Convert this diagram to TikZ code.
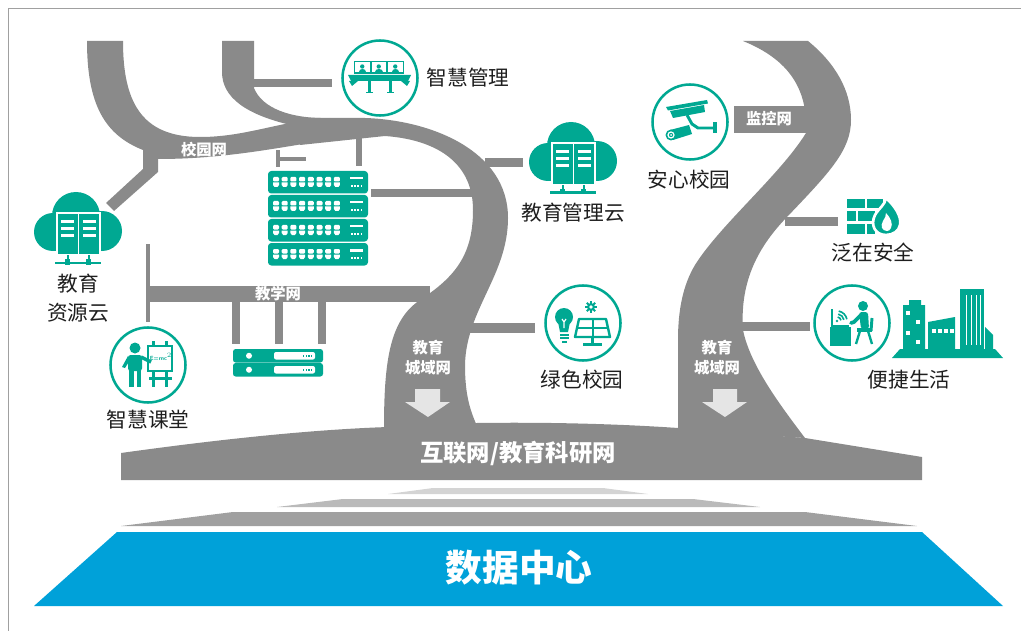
\documentclass[tikz,border=0pt]{standalone}
\usepackage{fontspec}
\newfontfamily\cjk{Noto Sans CJK SC}

\definecolor{roadgray}{RGB}{138,138,138}
\definecolor{iconteal}{RGB}{0,168,146}
\definecolor{dcblue}{RGB}{0,161,217}
\definecolor{framegray}{RGB}{160,160,160}
\definecolor{arrowgray}{RGB}{229,229,229}
\definecolor{stripeA}{RGB}{212,212,212}
\definecolor{stripeB}{RGB}{186,186,186}
\definecolor{stripeC}{RGB}{160,160,160}
\definecolor{labelblack}{RGB}{30,30,30}

\tikzset{every picture/.style={line width=0.75pt}}
\tikzset{
  lbl/.style={font=\cjk\fontsize{15.5}{21.5}\selectfont, text=labelblack, inner sep=0, align=center},
  roadlbl/.style={font=\cjk\bfseries\fontsize{11.5}{15}\selectfont, text=white, inner sep=0, align=center},
  ring/.style={draw=iconteal, line width=1.9pt},
  % one 1U switch with eight ports
  pics/swunit/.style={code={\begin{scope}[yscale=-1]
    \fill[iconteal, rounded corners=2.5] (0,0) rectangle (100,22.5);
    \foreach \j in {0,...,7} {
      \fill[white, rounded corners=0.8] ({5+8.7*\j},6) rectangle ++(6,4.5);
      \fill[white] ({5+8.7*\j},11.5) -- ++(6,0) -- ++(0,2.5) -- ++(-1.5,2) -- ++(-3,0) -- ++(-1.5,-2) -- cycle;
    }
    \fill[white] (82,6) rectangle (95,8.5);
    \foreach \k in {0,...,3} \fill[white] ({83+3.2*\k},14) rectangle ++(1.6,1.6);
  \end{scope}}},
  % one server blade
  pics/srvunit/.style={code={\begin{scope}[yscale=-1]
    \fill[iconteal, rounded corners=2] (0,0) rectangle (90,13.5);
    \fill[white] (16,6.75) circle[radius=3];
    \fill[white, rounded corners=1.5] (41,3) rectangle (82,10.5);
    \foreach \k in {0,...,3} \fill[iconteal] ({70+2.6*\k},6.2) rectangle ++(1.3,1.3);
  \end{scope}}},
  % cloud with a rack inside, origin at the top of the cloud
  pics/srvcloud/.style={code={\begin{scope}[yscale=-1]
    \fill[iconteal] (-2,24) circle[radius=24];
    \fill[iconteal] (-25,40) circle[radius=19];
    \fill[iconteal] (24,39) circle[radius=20];
    \fill[iconteal] (-25,35) rectangle (24,59);
    \filldraw[fill=iconteal, draw=white, line width=1.2] (-21,21) rectangle (22,63);
    \draw[white, line width=1.2] (0.5,21) -- (0.5,63);
    \foreach \yy in {28,35,42} {
      \fill[white] (-17,\yy) rectangle (-4,{\yy+3});
      \fill[white] (5,\yy) rectangle (18,{\yy+3});
    }
    \fill[iconteal] (-23,69.5) rectangle (23,72);
    \fill[iconteal] (-11.5,63) rectangle (-9.5,70);
    \fill[iconteal] (9.5,63) rectangle (11.5,70);
    \fill[iconteal] (-13,67) rectangle (-8,72.5);
    \fill[iconteal] (8,67) rectangle (13,72.5);
  \end{scope}}},
}

\begin{document}
\begin{tikzpicture}[x=0.75pt,y=0.75pt,yscale=-1,xscale=1]
\useasboundingbox (0,0) rectangle (1021,631);

%Frame
\draw[framegray, line width=1.1pt] (8.5,631) -- (8.5,8.5) -- (1021,8.5);

%Shape: stripes above the data centre
\fill[stripeA] (388,494) -- (433,488) -- (603,488) -- (648,494) -- cycle;
\fill[stripeB] (277,507) -- (343,499) -- (693,499) -- (760,507) -- cycle;
\fill[stripeC] (121,526) -- (233,512) -- (805,512) -- (917,526) -- cycle;
%Shape: data centre slab
\fill[dcblue] (34,606) -- (117,532) -- (922,532) -- (1003,606) -- cycle;

%Shape: backbone band
\fill[roadgray] (121,480) -- (121,453) .. controls (200,442) and (300,430) .. (388,427) -- (477,423) .. controls (550,422) and (620,424) .. (678,428) -- (805,438) -- (922,457) -- (922,480) -- cycle;

%Shape: left curve and campus road
\fill[roadgray] (87,41) -- (123,41) .. controls (123,100) and (140,137) .. (200,137) .. controls (235,137) and (262,128) .. (300,121) -- (360,121) -- (360,136) .. controls (300,142) and (240,159) .. (158,159) -- (158,172) -- (114,211) -- (106,203) -- (143,169) -- (143,150) .. controls (105,135) and (87,105) .. (87,41) -- cycle;
%Shape: second curve from the top
\fill[roadgray] (222,41) -- (254,41) -- (254,88) .. controls (262,108) and (290,119) .. (330,118) -- (330,126) -- (295,126) .. controls (245,115) and (222,97) .. (222,72) -- cycle;
%Shape: big left road down to the band
\fill[roadgray] (300,118) -- (365,118) .. controls (430,120) and (508,150) .. (508,218) .. controls (508,275) and (466,310) .. (465,365) .. controls (465,395) and (470,410) .. (477,426) -- (384,428) .. controls (384,360) and (390,320) .. (420,300) .. controls (455,277) and (473,255) .. (473,210) .. controls (473,165) and (440,140) .. (385,136) -- (300,145) -- cycle;
%Shape: right S road
\fill[roadgray] (743,41) -- (808,41) .. controls (835,63) and (851,90) .. (851,120) .. controls (851,150) and (830,172) .. (787,217) .. controls (755,250) and (740,285) .. (743,330) .. controls (750,365) and (780,405) .. (805,438) -- (678,430) -- (678,340) .. controls (678,310) and (683,285) .. (695,265) .. controls (720,225) and (780,175) .. (806,133) .. controls (808,90) and (790,60) .. (743,41) -- cycle;

%Straight Lines: branches
\fill[roadgray] (253,79) rectangle (332,87);
\fill[roadgray] (276,150) rectangle (280,167);
\fill[roadgray] (280,157) rectangle (306,161);
\fill[roadgray] (356,130) rectangle (362,166);
\fill[roadgray] (371,189) rectangle (474,197);
\fill[roadgray] (485,158) rectangle (523,167);
\fill[roadgray] (468,323) rectangle (535,333);
\fill[roadgray] (148,286) rectangle (430,302);
\fill[roadgray] (146,244) rectangle (150,322);
\foreach \dx in {232,275,318} \fill[roadgray] (\dx,300) rectangle ({\dx+8},344);
\fill[roadgray] (734,106) rectangle (808,133);
\fill[roadgray] (785,217) rectangle (838,226);
\fill[roadgray] (742,322) rectangle (810,331);

%Shape: down arrows
\fill[arrowgray] (415,389) -- (440,389) -- (440,402) -- (450,402) -- (428,417) -- (405,402) -- (415,402) -- cycle;
\fill[arrowgray] (713,389) -- (737,389) -- (737,402) -- (747,402) -- (725,417) -- (702,402) -- (713,402) -- cycle;

%Switch stack and servers
\foreach \i in {0,...,3} \pic at (268,{171+24*\i}) {swunit};
\pic at (233,349) {srvunit};
\pic at (233,363) {srvunit};

%Clouds
\pic at (78,192) {srvcloud};
\pic at (573,122) {srvcloud};

%Icon: conference
\begin{scope}[shift={(380,78)}]
\draw[ring] (0,0) circle[radius=37.5];
\fill[iconteal] (-26,-17) rectangle (24,-4);
\foreach \p in {-25,-8.5,8} {
  \fill[white] (\p,-15.5) rectangle ++(14.5,10);
  \fill[iconteal] ({\p+7.25},-11.5) circle[radius=2.2];
  \fill[iconteal] ({\p+3.5},-5.5) .. controls ({\p+3.5},-9.5) and ({\p+11},-9.5) .. ({\p+11},-5.5) -- cycle;
}
\fill[iconteal] (-32,-3) -- (31,-3) -- (28,3) -- (-29,3) -- cycle;
\fill[iconteal] (-12,3) rectangle (-9.5,15);
\fill[iconteal] (9,3) rectangle (11.5,15);
\fill[iconteal] (-14,14) rectangle (-7.5,15.5);
\fill[iconteal] (7,14) rectangle (13.5,15.5);
\fill[iconteal] (-31,3) -- (-22,3) -- (-28,8) -- cycle;
\fill[iconteal] (21,3) -- (30,3) -- (27,8) -- cycle;
\end{scope}

%Icon: cameras
\begin{scope}[shift={(690,122)}]
\draw[ring] (0,0) circle[radius=37.5];
\fill[iconteal] (-24,-15) -- (17,-22) -- (18,-18.5) -- (-22,-11.5) -- cycle;
\fill[iconteal] (-20,-11) -- (14,-17) -- (15,-10) -- (-17,-4) -- cycle;
\draw[iconteal, line width=2.2] (-3,-7) -- (2,2) -- (8,6) -- (24,6);
\fill[iconteal] (23,0) rectangle (27,11);
\fill[iconteal] (-20,8) -- (-1,3) -- (2,12) -- (-17,18) -- cycle;
\fill[iconteal] (-19,13) circle[radius=5.5];
\draw[white, line width=0.9] (-19,13) circle[radius=3];
\fill[white] (-19,13) circle[radius=1];
\end{scope}

%Icon: bulb and solar panel
\begin{scope}[shift={(583,323)}]
\draw[ring] (0,0) circle[radius=37.5];
\fill[iconteal] (-19,-6) circle[radius=9];
\fill[iconteal] (-25,-1) -- (-13,-1) -- (-15,9) -- (-23,9) -- cycle;
\draw[white, line width=0.9] (-21,-4) -- (-19,-1) -- (-17,-4) (-19,-1) -- (-19,5);
\fill[iconteal] (-23.5,10.5) rectangle (-14.5,12.5);
\fill[iconteal] (-23.5,14) rectangle (-14.5,16);
\fill[iconteal] (-21.5,17.5) rectangle (-16.5,19.5);
\draw[iconteal, line width=1.8, line join=round] (-4,-4) -- (23,-4) -- (27,14) -- (-8,14) -- cycle;
\draw[iconteal, line width=1.5] (9.5,-4) -- (9.5,14) (-6,5) -- (25,5);
\fill[iconteal] (8,14) rectangle (11,20);
\fill[iconteal] (0,20) rectangle (19,22.5);
\fill[iconteal] (8,-16) circle[radius=4];
\foreach \a in {0,45,...,315} \fill[iconteal, rotate around={\a:(8,-16)}] (7,-22) rectangle (9,-19);
\fill[white] (8,-16) circle[radius=1.8];
\end{scope}

%Icon: teacher at the board
\begin{scope}[shift={(148,365)}]
\draw[ring] (0,0) circle[radius=37.5];
\fill[iconteal] (-13,-17) circle[radius=5.5];
\fill[iconteal, rounded corners=2] (-20,-10) rectangle (-6,6);
\fill[iconteal] (-19,5) rectangle (-14.5,22);
\fill[iconteal] (-11.5,5) rectangle (-7,22);
\fill[iconteal] (-20,-9) -- (-26,2) -- (-23,3) -- (-18,-5) -- cycle;
\draw[iconteal, line width=2.2] (0,-19) rectangle (24,6);
\draw[iconteal, line width=2.6] (-7,-8) -- (3,-3);
\fill[iconteal] (4,-24) rectangle (7,-19);
\fill[iconteal] (17,-24) rectangle (20,-19);
\node[text=iconteal, font=\sffamily\bfseries\fontsize{4.5}{5}\selectfont, inner sep=0] (emc) at (13,-8) {E=mc$^2$};
\fill[iconteal] (4,6) rectangle (7,22);
\fill[iconteal] (17,6) rectangle (20,22);
\fill[iconteal] (1,12) rectangle (24,14.5);
\end{scope}

%Icon: worker at desk
\begin{scope}[shift={(852,323)}]
\draw[ring] (0,0) circle[radius=37.5];
\fill[iconteal] (-22,4) rectangle (-1,23);
\draw[iconteal, line width=1.3] (-20,-14) -- (-20,3) -- (-3,3);
\fill[iconteal] (-15,-2) circle[radius=1.3];
\foreach \r in {4,7,10} \draw[iconteal, line width=1.2] ([shift={(-80:\r)}]-15,-2) arc[start angle=-80, end angle=-10, radius=\r];
\fill[iconteal] (11,-17) circle[radius=5];
\fill[iconteal, rounded corners=2] (7,-11) -- (16,-11) -- (17,6) -- (9,6) -- cycle;
\draw[iconteal, line width=2.8, line cap=round] (9,-8) -- (2,-1) -- (-1,0);
\draw[iconteal, line width=2.2] (20,-5) -- (19,8);
\fill[iconteal] (5,5) rectangle (20,8.5);
\draw[iconteal, line width=1.8] (8,8) -- (4,21) (16,8) -- (20,21);
\end{scope}

%Icon: city buildings
\fill[iconteal] (892,358) -- (900,349) -- (995,349) -- (1003,358) -- cycle;
\fill[iconteal] (903,349) -- (903,305) -- (909,305) -- (909,300) -- (921,300) -- (921,305) -- (925,305) -- (925,349) -- cycle;
\foreach \wx/\wy in {906/311,916/320,906/331,916/340} \fill[white] (\wx,\wy) rectangle ++(4,4);
\fill[iconteal] (928,349) -- (928,322) -- (955,317) -- (955,349) -- cycle;
\foreach \wx in {932,938,944,950} \fill[white] (\wx,329) rectangle ++(4,3.5);
\fill[iconteal] (960,349) rectangle (984,289);
\foreach \wx in {966,971,976,980} \fill[white] (\wx,295) rectangle ++(1.4,50);
\fill[iconteal] (985,349) -- (985,327) -- (993,335) -- (993,349) -- cycle;

%Icon: firewall
\fill[iconteal] (847,199) rectangle (865,208.5);
\fill[iconteal] (867,199) rectangle (883,208.5);
\fill[iconteal] (847,211) rectangle (856,221);
\fill[iconteal] (858,211) rectangle (875,221);
\fill[iconteal] (847,224) rectangle (865,234);
\fill[iconteal] (867,224) rectangle (875,234);
\filldraw[fill=iconteal, draw=white, line width=2] (886,235) .. controls (875,235) and (870,225) .. (875,215) .. controls (879,208) and (885,205) .. (886,198) .. controls (895,206) and (902,217) .. (900,225) .. controls (899,231) and (893,235) .. (886,235) -- cycle;
\fill[white] (887,231) .. controls (882,231) and (880,226) .. (883,221) .. controls (885,218) and (886,216) .. (886,213) .. controls (891,218) and (893,224) .. (891,228) .. controls (890,230) and (889,231) .. (887,231) -- cycle;

% Text Node
\node[roadlbl] (campusnet) at (204,150) {校园网};
\node[roadlbl] (teachnet) at (278,294) {教学网};
\node[roadlbl] (camnet) at (769,119) {监控网};
\node[roadlbl] (metroA) at (428,358) {教育\\城域网};
\node[roadlbl] (metroB) at (717,358) {教育\\城域网};
\node[font=\cjk\bfseries\fontsize{17.5}{20}\selectfont, text=white, inner sep=0] (backbone) at (518,453) {互联网/教育科研网};
\node[font=\cjk\bfseries\fontsize{27.5}{30}\selectfont, text=white, inner sep=0] (datacenter) at (519,568) {数据中心};

% Text Node
\node[lbl] (mgmt) at (468,78) {智慧管理};
\node[lbl] (safecampus) at (689,180) {安心校园};
\node[lbl] (mgmtcloud) at (573,213) {教育管理云};
\node[lbl] (security) at (873,253) {泛在安全};
\node[lbl] (life) at (909,380) {便捷生活};
\node[lbl] (green) at (582,380) {绿色校园};
\node[lbl] (classroom) at (148,420) {智慧课堂};
\node[lbl] (rescloud) at (78,298) {教育\\资源云};

\end{tikzpicture}
\end{document}
